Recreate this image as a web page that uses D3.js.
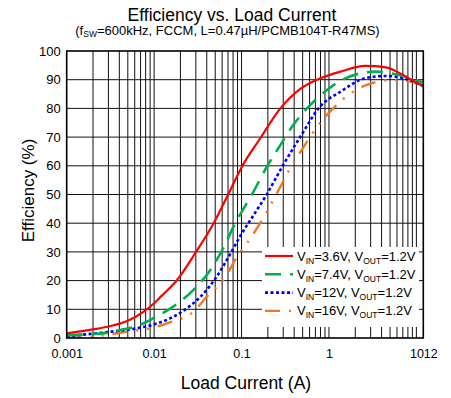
<!DOCTYPE html>
<html>
<head>
<meta charset="utf-8">
<script src="https://cdn.jsdelivr.net/npm/d3@7"></script>
<style>
  html, body { margin: 0; padding: 0; background: #fff; }
  svg { display: block; font-family: "Liberation Sans", Arial, sans-serif; }
</style>
</head>
<body>
<svg id="chart" width="451" height="398"></svg>
<script>
// ---------- data ----------
const seriesNames = ["VIN=3.6V, VOUT=1.2V", "VIN=7.4V, VOUT=1.2V", "VIN=12V, VOUT=1.2V", "VIN=16V, VOUT=1.2V"];
const vinLabels = ["3.6V", "7.4V", "12V", "16V"];
const voutLabel = "1.2V";

const redI   = [0.001,0.002,0.003,0.005,0.0076,0.01,0.012,0.0183,0.0297,0.048,0.0745,0.101,0.164,0.278,0.47,0.8,1.35,2.6,4.5,6.5,8.9,12];
const redE   = [1.6,3.0,4.0,6.0,9.2,12.1,14.5,20.2,29.7,40,51.6,59.7,69.6,80,86.8,90.5,92.8,94.8,94.3,92.2,89.9,87.8];

const greenI = [0.001,0.0029,0.0041,0.0064,0.0083,0.0109,0.0154,0.028,0.044,0.062,0.081,0.137,0.195,0.278,0.39,0.56,0.95,1.45,3.4,6,12];
const greenE = [1.0,1.8,2.8,4.2,5.7,7.7,10.3,16.7,23.7,31.4,38.8,51,59.7,67.2,74.2,80,86.4,90.1,92.8,91.8,89];

const blueI  = [0.001,0.0017,0.0032,0.0064,0.0109,0.0154,0.024,0.034,0.052,0.075,0.1,0.132,0.187,0.3,0.47,0.79,1.35,2.6,4.5,7,12];
const blueE  = [0.6,1.3,2.2,3.4,5.1,6.9,10.5,14.4,21.4,29.5,36.3,42,49.2,60.3,70.1,80.6,85.8,90.5,91.3,90.6,87.8];

const orangeI = [0.001,0.0016,0.0027,0.0049,0.0091,0.0154,0.028,0.04,0.063,0.089,0.126,0.19,0.278,0.35,0.53,0.7,1.17,1.45,2.7,5.4,8,12];
const orangeE = [0.1,0.2,1.0,2.2,3.4,5.5,9.1,14.4,20.6,28.3,34.7,43.4,52.7,58.5,67.2,72.8,80.6,83.2,88.2,89.9,89.5,87.8];

const xTickValues = [0.001, 0.01, 0.1, 1, 10, 12];
const xTickLabels = ["0.001", "0.01", "0.1", "1", "10", "12"];
const yTickValues = [0,10,20,30,40,50,60,70,80,90,100];

// ---------- layout ----------
const svg = d3.select("#chart");
const L = 66.7, R = 423.3, T = 51, B = 338;
const x = d3.scaleLog().domain([0.001, 12]).range([L, R]);
const y = d3.scaleLinear().domain([0, 100]).range([B, T]);

const styles = [
  { color: "#ff0000", dash: null,            width: 2.2 },
  { color: "#00b050", dash: "16,9",          width: 2.6 },
  { color: "#0000ff", dash: "3,2.5",         width: 2.6 },
  { color: "#f07820", dash: "15,9,2,9,2,9",  width: 2.4 }
];
const series = [
  { I: redI, E: redE },
  { I: greenI, E: greenE },
  { I: blueI, E: blueE },
  { I: orangeI, E: orangeE }
];

// ---------- grid ----------
const minor = [];
for (let d = -3; d <= 1; d++) for (let m = 1; m <= 9; m++) {
  const v = m * Math.pow(10, d);
  if (v > 0.001 && v < 12) minor.push(v);
}
const grid = svg.append("g").attr("stroke", "#111").attr("stroke-width", 1);
grid.selectAll("line.v").data(minor).join("line")
  .attr("x1", d => x(d)).attr("x2", d => x(d)).attr("y1", T).attr("y2", B);
grid.selectAll("line.h").data(yTickValues.slice(1, -1)).join("line")
  .attr("x1", L).attr("x2", R).attr("y1", d => y(d)).attr("y2", d => y(d));

// ---------- curves ----------
svg.append("clipPath").attr("id", "clip").append("rect")
  .attr("x", L).attr("y", T).attr("width", R - L).attr("height", B - T);
const line = d3.line().x(d => x(d[0])).y(d => y(d[1])).curve(d3.curveMonotoneX);
const curves = svg.append("g").attr("clip-path", "url(#clip)");
[3, 2, 1, 0].forEach(i => {
  const s = series[i], st = styles[i];
  curves.append("path")
    .datum(s.I.map((v, k) => [v, s.E[k]]))
    .attr("d", line)
    .attr("fill", "none")
    .attr("stroke", st.color)
    .attr("stroke-width", st.width)
    .attr("stroke-dasharray", st.dash);
});

// ---------- frame ----------
svg.append("rect").attr("x", L).attr("y", T).attr("width", R - L).attr("height", B - T)
  .attr("fill", "none").attr("stroke", "#000").attr("stroke-width", 1.6);

// ---------- axes ----------
const xAxis = d3.axisBottom(x).tickValues(xTickValues)
  .tickFormat((d, i) => xTickLabels[i]).tickSize(0).tickPadding(11);
const gx = svg.append("g").attr("transform", `translate(0,${B})`).call(xAxis);
gx.select(".domain").remove();
gx.selectAll("text").attr("font-size", 12.5).attr("fill", "#000")
  .attr("font-family", "Liberation Sans, Arial, sans-serif")
  .attr("text-anchor", (d, i) => i === xTickValues.length - 1 ? "start" : "middle");

const yAxis = d3.axisLeft(y).tickValues(yTickValues).tickSize(0).tickPadding(6);
const gy = svg.append("g").attr("transform", `translate(${L},0)`).call(yAxis);
gy.select(".domain").remove();
gy.selectAll("text").attr("font-size", 13).attr("fill", "#000")
  .attr("font-family", "Liberation Sans, Arial, sans-serif");

// ---------- titles ----------
svg.append("text").attr("x", 232).attr("y", 20.5).attr("text-anchor", "middle")
  .attr("font-size", 17.5).text("Efficiency vs. Load Current");

const sub = svg.append("text").attr("x", 227.5).attr("y", 35).attr("text-anchor", "middle")
  .attr("font-size", 13);
sub.append("tspan").text("(f");
sub.append("tspan").attr("font-size", 8.5).attr("dy", 2).text("SW");
sub.append("tspan").attr("dy", -2).text("=600kHz, FCCM, L=0.47µH/PCMB104T-R47MS)");

svg.append("text").attr("transform", "translate(34,190.5) rotate(-90)")
  .attr("text-anchor", "middle").attr("font-size", 17).text("Efficiency (%)");

svg.append("text").attr("x", 246).attr("y", 389).attr("text-anchor", "middle")
  .attr("font-size", 17.5).text("Load Current (A)");

// ---------- legend ----------
svg.append("rect").attr("x", 262).attr("y", 247).attr("width", 157).attr("height", 80).attr("fill", "#fff");
const lg = svg.append("g");
series.forEach((s, i) => {
  const ly = 256 + i * 18.3;
  const st = styles[i];
  lg.append("line").attr("x1", 265).attr("x2", 293).attr("y1", ly).attr("y2", ly)
    .attr("stroke", st.color).attr("stroke-width", st.width)
    .attr("stroke-dasharray", st.dash);
  const t = lg.append("text").attr("x", 297).attr("y", ly + 4.5).attr("font-size", 13);
  t.append("tspan").text("V");
  t.append("tspan").attr("font-size", 8.5).attr("dy", 3).text("IN");
  t.append("tspan").attr("dy", -3).text("=" + vinLabels[i] + ", V");
  t.append("tspan").attr("font-size", 8.5).attr("dy", 3).text("OUT");
  t.append("tspan").attr("dy", -3).text("=" + voutLabel);
});
</script>
</body>
</html>
